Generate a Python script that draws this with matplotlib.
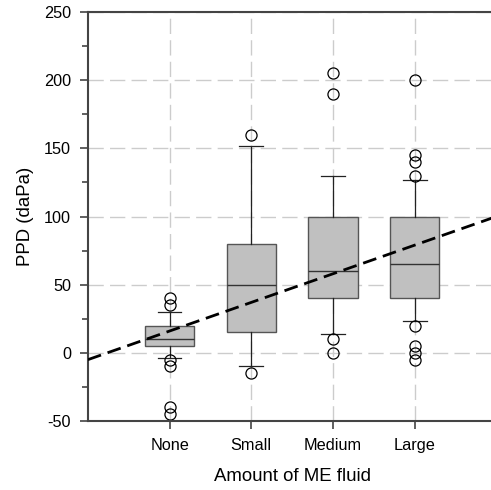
import numpy as np
import matplotlib
matplotlib.use('Agg')
from matplotlib import pyplot as plt

plt.rcParams['font.family'] = ['Liberation Sans', 'DejaVu Sans']
plt.rcParams['axes.unicode_minus'] = False

# data
groups = ['None', 'Small', 'Medium', 'Large']
q1 = [5, 15, 40, 40]
med = [10, 50, 60, 65]
q3 = [20, 80, 100, 100]
whis_lo = [-4, -10, 14, 23]
whis_hi = [30, 152, 130, 127]
fliers = [
	[40, 35, -5, -10, -40, -45],
	[160, -15],
	[205, 190, 10, 0],
	[200, 145, 140, 130, 20, 5, 0, -5],
]
# regression line: PPD = a + b * x
fit_a = -5.0
fit_b = 21.0

stats = []
for i in range(len(groups)):
	stats.append({'med': med[i], 'q1': q1[i], 'q3': q3[i],
		'whislo': whis_lo[i], 'whishi': whis_hi[i], 'fliers': fliers[i], 'label': groups[i]})

fig = plt.figure(figsize=(4.91, 4.90), dpi=100)
ax = fig.add_axes([0.179, 0.1408, 0.832, 0.8347])

grid_c = '#cccccc'
ax.set_axisbelow(True)
ax.grid(True, color=grid_c, linestyle=(0, (11, 4.5)), linewidth=1.0)

pos = np.arange(1, len(groups) + 1)
ax.bxp(stats, positions=pos, widths=0.6, patch_artist=True,
	boxprops=dict(facecolor='#c0c0c0', edgecolor='#555555', linewidth=1.0),
	medianprops=dict(color='#333333', linewidth=1.0),
	whiskerprops=dict(color='#222222', linewidth=0.9),
	capprops=dict(color='#222222', linewidth=0.9),
	capwidths=0.29,
	flierprops=dict(marker='o', markerfacecolor='none', markeredgecolor='black',
		markersize=8, markeredgewidth=0.9))

xs = np.array([0, 5])
ax.plot(xs, fit_a + fit_b * xs, color='black', linestyle=(0, (5, 2.5)), linewidth=2.0, zorder=5)

ax.set_xlim(0, 5)
ax.set_ylim(-50, 250)
ax.set_xticks(pos)
ax.set_xticklabels(groups)
ax.set_yticks(np.arange(-50, 251, 50))
ax.set_yticks(np.arange(-25, 251, 50), minor=True)
ax.tick_params(axis='both', which='major', labelsize=11.7, direction='out', length=6, width=1.2, color='#444444', pad=6)
ax.tick_params(axis='y', which='minor', direction='out', length=4, width=1.2, color='#444444')
for s in ['left', 'top', 'bottom', 'right']:
	ax.spines[s].set_color('#444444')
	ax.spines[s].set_linewidth(1.5)

ax.set_xlabel('Amount of ME fluid', fontsize=13.4, labelpad=11)
ax.set_ylabel('PPD (daPa)', fontsize=13.4, labelpad=7)

plt.savefig('out.png', dpi=100)
